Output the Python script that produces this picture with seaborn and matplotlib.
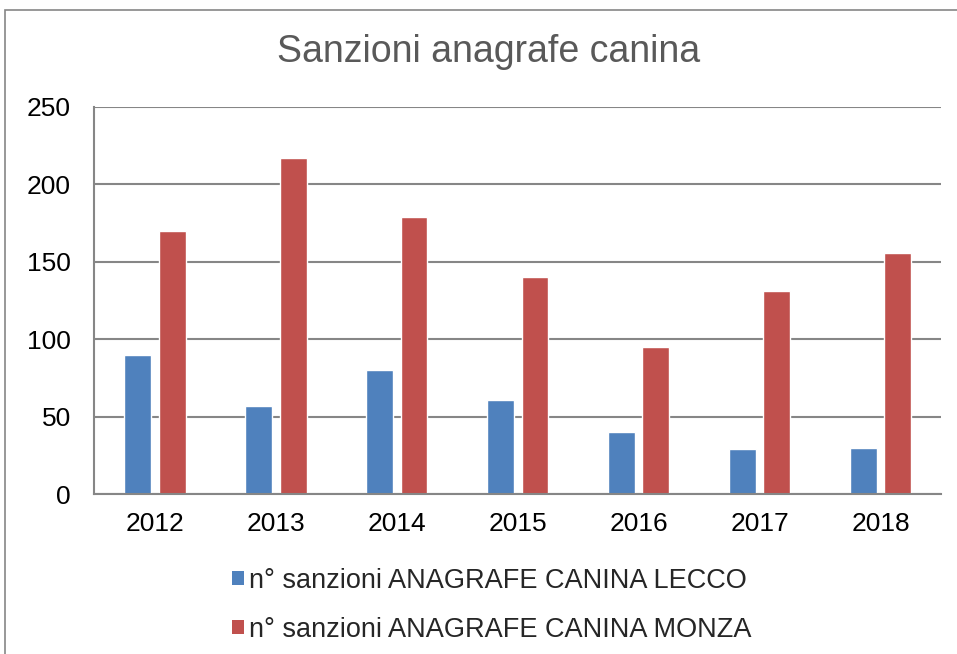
import matplotlib
matplotlib.use("Agg")
import matplotlib.pyplot as plt
import seaborn as sns
import pandas as pd
from matplotlib.patches import Rectangle, Patch

years = ["2012", "2013", "2014", "2015", "2016", "2017", "2018"]
lecco = [90, 57, 80, 61, 40, 29, 30]
monza = [170, 217, 179, 140, 95, 131, 156]
series_names = ["n° sanzioni ANAGRAFE CANINA LECCO", "n° sanzioni ANAGRAFE CANINA MONZA"]
colors = ["#4F81BD", "#C0504D"]

df = pd.DataFrame({
    "anno": years * 2,
    "valore": lecco + monza,
    "serie": [series_names[0]] * len(years) + [series_names[1]] * len(years),
})

sns.set_style("white")
plt.rcParams["font.family"] = ["Liberation Sans", "DejaVu Sans"]

fig = plt.figure(figsize=(9.57, 6.54), dpi=100)
ax = fig.add_axes([0.0987, 0.2446, 0.9833 - 0.0987, 0.8364 - 0.2446])

sns.barplot(data=df, x="anno", y="valore", hue="serie", palette=colors,
            width=0.57, gap=0.22, ax=ax, legend=False, saturation=1)

ax.set_ylim(0, 250)
ax.set_yticks([0, 50, 100, 150, 200, 250])
ax.set_xlim(-0.5, len(years) - 0.5)
ax.yaxis.grid(True, color="#868686", linewidth=1.5)
ax.set_axisbelow(True)
for s in ["top", "right"]:
    ax.spines[s].set_visible(False)
for s in ["left", "bottom"]:
    ax.spines[s].set_color("#868686")
    ax.spines[s].set_linewidth(1.5)
ax.set_xlabel("")
ax.set_ylabel("")
ax.tick_params(axis="both", labelsize=19, colors="black", length=0)
ax.tick_params(axis="x", pad=13)
ax.tick_params(axis="y", pad=17)

fig.text(0.511, 0.92, "Sanzioni anagrafe canina", ha="center", va="center",
         fontsize=27, color="#595959")

handles = [Patch(facecolor=c, edgecolor="none") for c in colors]
fig.legend(handles, series_names, loc="upper left", bbox_to_anchor=(0.242, 0.132),
           frameon=False, fontsize=19.5, handlelength=0.45, handleheight=0.45,
           handletextpad=0.18, labelspacing=0.85, borderaxespad=0, borderpad=0)

fig.patches.append(Rectangle((5 / 957, -0.1), 1.2, 1 - 10 / 654 + 0.1,
                             transform=fig.transFigure, fill=False,
                             edgecolor="#868686", linewidth=1.2))

fig.savefig("out.png", dpi=100, facecolor="white")
